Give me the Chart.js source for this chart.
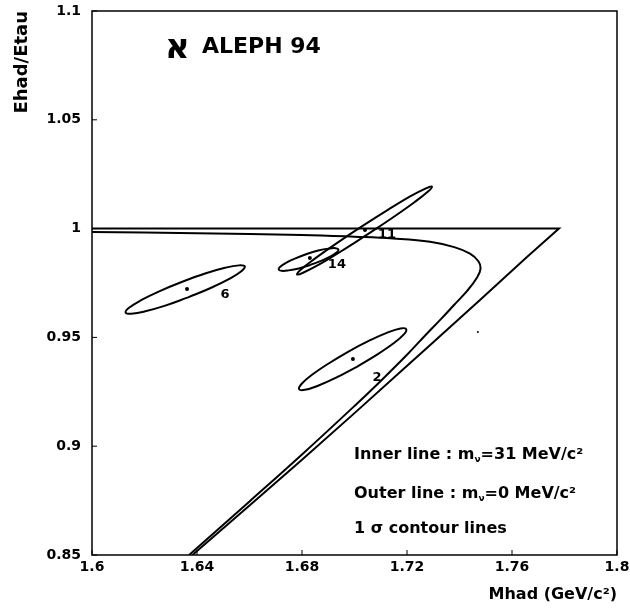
<!DOCTYPE html>
<html lang="en">
<head>
    <meta charset="UTF-8">
    <title>ALEPH 94 - Ehad/Etau vs Mhad</title>
    <script src="https://cdn.jsdelivr.net/npm/chart.js"></script>
    <style>
        body { margin: 0; background: #fff; }
        canvas { display: block; }
    </style>
</head>
<body>
    <canvas id="alephChart" width="630" height="616"></canvas>

    <script>
        // axis ticks
        const xTickValues = [1.6, 1.64, 1.68, 1.72, 1.76, 1.8];
        const xTickLabels = ['1.6', '1.64', '1.68', '1.72', '1.76', '1.8'];
        const yTickValues = [0.85, 0.9, 0.95, 1, 1.05, 1.1];
        const yTickLabels = ['0.85', '0.9', '0.95', '1', '1.05', '1.1'];

        // outer kinematic limit (m_nu = 0)
        const outerMhad  = [1.6, 1.7779, 1.7657, 1.7478, 1.7299, 1.7211, 1.70, 1.68, 1.66, 1.64, 1.6383];
        const outerRatio = [1.0, 1.0, 0.9870, 0.9672, 0.9477, 0.9381, 0.9152, 0.8938, 0.8727, 0.8518, 0.85];

        // inner kinematic limit (m_nu = 31 MeV)
        const innerMhad  = [1.6, 1.64, 1.68, 1.70, 1.7147, 1.7288, 1.7380, 1.7440, 1.7472, 1.7480, 1.7467, 1.7430, 1.7380, 1.7330, 1.7270, 1.7200, 1.7100, 1.70, 1.68, 1.66, 1.64, 1.6370];
        const innerRatio = [0.9984, 0.9979, 0.9971, 0.9963, 0.9955, 0.9940, 0.9915, 0.9885, 0.9850, 0.9815, 0.9775, 0.9715, 0.9650, 0.9585, 0.9510, 0.9420, 0.9300, 0.9185, 0.8962, 0.8746, 0.8532, 0.85];

        // 1 sigma contours of the events
        const ell6Mhad   = [1.6366, 1.6279, 1.6203, 1.6150, 1.6128, 1.6141, 1.6187, 1.6258, 1.6344, 1.6431, 1.6507, 1.6560, 1.6582, 1.6569, 1.6523, 1.6452, 1.6366];
        const ell6Ratio  = [0.9684, 0.9646, 0.9620, 0.9609, 0.9614, 0.9636, 0.9671, 0.9713, 0.9756, 0.9794, 0.9820, 0.9831, 0.9826, 0.9804, 0.9769, 0.9727, 0.9684];
        const ell14Mhad  = [1.6832, 1.6788, 1.6749, 1.6722, 1.6711, 1.6717, 1.6739, 1.6775, 1.6818, 1.6862, 1.6901, 1.6928, 1.6939, 1.6933, 1.6911, 1.6875, 1.6832];
        const ell14Ratio = [0.9833, 0.9817, 0.9808, 0.9806, 0.9812, 0.9825, 0.9843, 0.9863, 0.9883, 0.9899, 0.9908, 0.9910, 0.9904, 0.9891, 0.9873, 0.9853, 0.9833];
        const ell11Mhad  = [1.7048, 1.6949, 1.6864, 1.6804, 1.6781, 1.6796, 1.6849, 1.6930, 1.7028, 1.7127, 1.7212, 1.7272, 1.7295, 1.7280, 1.7227, 1.7146, 1.7048];
        const ell11Ratio = [0.9972, 0.9896, 0.9834, 0.9797, 0.9789, 0.9812, 0.9862, 0.9931, 1.0010, 1.0086, 1.0148, 1.0185, 1.0193, 1.0170, 1.0120, 1.0051, 0.9972];
        const ell2Mhad   = [1.7009, 1.6930, 1.6861, 1.6811, 1.6789, 1.6798, 1.6837, 1.6900, 1.6977, 1.7056, 1.7125, 1.7175, 1.7197, 1.7188, 1.7149, 1.7086, 1.7009];
        const ell2Ratio  = [0.9365, 0.9315, 0.9278, 0.9259, 0.9262, 0.9286, 0.9327, 0.9379, 0.9435, 0.9485, 0.9522, 0.9541, 0.9538, 0.9514, 0.9473, 0.9421, 0.9365];

        // event centres and their numbers
        const eventNames = ['6', '14', '11', '2'];
        const eventMhad  = [1.6362, 1.6830, 1.7040, 1.6994];
        const eventRatio = [0.9722, 0.9865, 0.9994, 0.9401];
        const labelMhad  = [1.6507, 1.6933, 1.7124, 1.7086];
        const labelRatio = [0.9695, 0.9833, 0.9971, 0.9313];

        // lone speck right of the band
        const speckMhad  = [1.7470];
        const speckRatio = [0.9525];

        const FONT = '"DejaVu Sans", sans-serif';

        function toPoints(xs, ys) {
            return xs.map((v, i) => ({ x: v, y: ys[i] }));
        }

        function lineSet(xs, ys, tension) {
            return {
                data: toPoints(xs, ys),
                showLine: true,
                borderColor: '#000',
                borderWidth: 2,
                pointRadius: 0,
                tension: tension
            };
        }

        // frame, inward ticks, event numbers and text blocks
        const decorations = {
            id: 'decorations',
            afterDatasetsDraw(chart) {
                const { ctx, chartArea: a, scales: { x, y } } = chart;
                ctx.save();
                ctx.strokeStyle = '#000';
                ctx.lineWidth = 1.5;
                ctx.strokeRect(a.left, a.top, a.right - a.left, a.bottom - a.top);

                ctx.lineWidth = 1;
                ctx.beginPath();
                xTickValues.forEach(v => {
                    const px = x.getPixelForValue(v);
                    ctx.moveTo(px, a.bottom);
                    ctx.lineTo(px, a.bottom - 5);
                });
                yTickValues.forEach(v => {
                    const py = y.getPixelForValue(v);
                    ctx.moveTo(a.left, py);
                    ctx.lineTo(a.left + 5, py);
                });
                ctx.stroke();

                ctx.fillStyle = '#000';
                ctx.font = 'bold 13px ' + FONT;
                ctx.textAlign = 'center';
                ctx.textBaseline = 'middle';
                eventNames.forEach((n, i) => {
                    ctx.fillText(n, x.getPixelForValue(labelMhad[i]), y.getPixelForValue(labelRatio[i]));
                });

                // experiment logo
                ctx.textAlign = 'left';
                ctx.textBaseline = 'alphabetic';
                ctx.font = 'bold 34px ' + FONT;
                ctx.fillText('\u05D0', 165, 58);
                ctx.font = 'bold 22px ' + FONT;
                ctx.fillText('ALEPH 94', 202, 53);

                // legend text
                ctx.textBaseline = 'middle';
                const lx = 354;
                drawMassLine(ctx, lx, 455, 'Inner line : m', '=31 MeV/c\u00B2');
                drawMassLine(ctx, lx, 494, 'Outer line : m', '=0 MeV/c\u00B2');
                ctx.font = 'bold 16px ' + FONT;
                ctx.fillText('1 \u03C3 contour lines', lx, 529);
                ctx.restore();
            }
        };

        function drawMassLine(ctx, px, py, head, tail) {
            ctx.font = 'bold 16px ' + FONT;
            ctx.fillText(head, px, py);
            let cx = px + ctx.measureText(head).width;
            ctx.font = 'bold 9px ' + FONT;
            ctx.fillText('\u03BD', cx, py + 5);
            cx += ctx.measureText('\u03BD').width;
            ctx.font = 'bold 16px ' + FONT;
            ctx.fillText(tail, cx, py);
        }

        const tickFont = { family: FONT, size: 14, weight: 'bold' };

        new Chart(document.getElementById('alephChart'), {
            type: 'scatter',
            data: {
                datasets: [
                    lineSet(outerMhad, outerRatio, 0),
                    lineSet(innerMhad, innerRatio, 0.4),
                    lineSet(ell6Mhad, ell6Ratio, 0.4),
                    lineSet(ell14Mhad, ell14Ratio, 0.4),
                    lineSet(ell11Mhad, ell11Ratio, 0.4),
                    lineSet(ell2Mhad, ell2Ratio, 0.4),
                    {
                        data: toPoints(eventMhad, eventRatio),
                        pointRadius: 2,
                        pointBackgroundColor: '#000',
                        pointBorderWidth: 0
                    },
                    {
                        data: toPoints(speckMhad, speckRatio),
                        pointRadius: 1,
                        pointBackgroundColor: '#000',
                        pointBorderWidth: 0
                    }
                ]
            },
            options: {
                responsive: false,
                animation: false,
                layout: { padding: { top: 11, right: 13, left: 0, bottom: 0 } },
                plugins: { legend: { display: false }, tooltip: { enabled: false } },
                scales: {
                    x: {
                        type: 'linear',
                        min: 1.6,
                        max: 1.8,
                        afterBuildTicks: s => { s.ticks = xTickValues.map(v => ({ value: v })); },
                        afterFit: s => {
                            s.height = 61;
                            s.paddingLeft = 0;
                            s.paddingRight = 0;
                        },
                        grid: { display: false, drawTicks: false },
                        border: { display: false },
                        ticks: {
                            autoSkip: false,
                            maxRotation: 0,
                            padding: 4,
                            color: '#000',
                            font: tickFont,
                            callback: (v, i) => xTickLabels[i]
                        },
                        title: {
                            display: true,
                            text: 'Mhad (GeV/c\u00B2)',
                            align: 'end',
                            color: '#000',
                            font: { family: FONT, size: 16, weight: 'bold' },
                            padding: { top: 0, bottom: 12 }
                        }
                    },
                    y: {
                        type: 'linear',
                        min: 0.85,
                        max: 1.1,
                        afterBuildTicks: s => { s.ticks = yTickValues.map(v => ({ value: v })); },
                        afterFit: s => {
                            s.width = 92;
                            s.paddingTop = 0;
                            s.paddingBottom = 0;
                        },
                        grid: { display: false, drawTicks: false },
                        border: { display: false },
                        ticks: {
                            autoSkip: false,
                            padding: 11,
                            color: '#000',
                            font: tickFont,
                            callback: (v, i) => yTickLabels[i]
                        },
                        title: {
                            display: true,
                            text: 'Ehad/Etau',
                            align: 'end',
                            color: '#000',
                            font: { family: FONT, size: 18, weight: 'bold' },
                            padding: { top: 12, bottom: 0 }
                        }
                    }
                }
            },
            plugins: [decorations]
        });
    </script>
</body>
</html>
